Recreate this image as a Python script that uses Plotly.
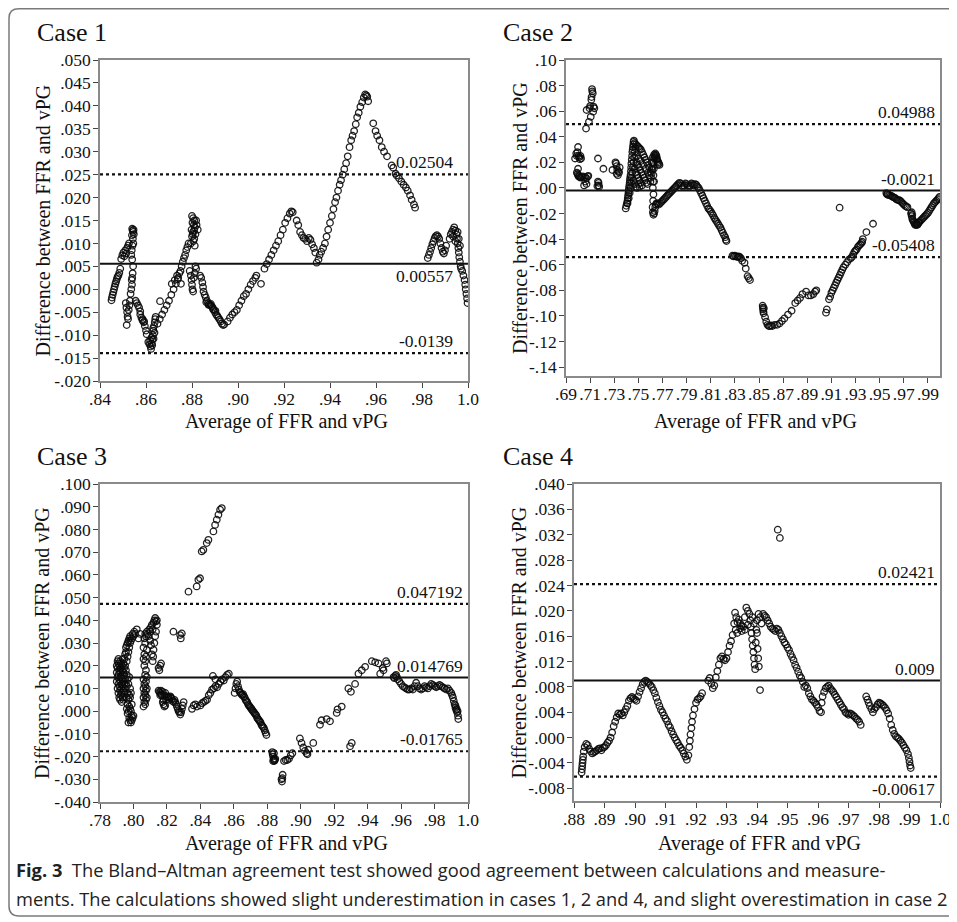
import plotly.graph_objects as go

W, H = 957, 922

# ---------------- data ----------------
case1_points = [
    (.8450,-.0024),(.8452,-.0018),(.8455,-.0012),(.8458,-.0006),(.8461,.0000),(.8464,.0006),(.8467,.0012),
    (.8470,.0017),(.8473,.0022),(.8476,.0027),(.8480,.0030),(.8484,.0036),(.8488,.0045),(.8492,.0066),
    (.8497,.0074),(.8502,.0080),(.8506,.0072),(.8510,.0085),(.8514,.0078),(.8518,.0090),(.8522,.0095),(.8526,.0100),
    (.8540,.0132),(.8542,.0128),(.8545,.0125),(.8547,.0120),(.8543,.0110),(.8545,.0100),(.8541,.0095),(.8538,.0085),
    (.8536,.0075),(.8540,.0065),(.8544,.0050),(.8542,.0035),(.8540,.0025),(.8538,.0020),(.8546,.0130),(.8539,.0118),
    (.8512,-.0030),(.8515,-.0040),(.8518,-.0050),(.8520,-.0060),(.8516,-.0078),(.8522,-.0065),(.8525,-.0045),
    (.8528,-.0035),(.8530,-.0025),(.8533,-.0010),(.8536,.0000),(.8539,.0010),
    (.8555,-.0025),(.8560,-.0030),(.8565,-.0035),(.8570,-.0040),(.8575,-.0055),(.8580,-.0062),(.8585,-.0068),
    (.8590,-.0072),(.8595,-.0080),(.8600,-.0090),(.8603,-.0098),(.8575,-.0048),(.8585,-.0065),(.8592,-.0070),
    (.8610,-.0115),(.8615,-.0120),(.8620,-.0125),(.8622,-.0130),(.8625,-.0118),(.8628,-.0110),(.8630,-.0100),
    (.8632,-.0090),(.8635,-.0080),(.8638,-.0072),(.8640,-.0065),(.8627,-.0122),(.8633,-.0108),(.8637,-.0095),
    (.8618,-.0112),(.8624,-.0105),(.8631,-.0085),(.8642,-.0060),
    (.8661,-.0026),
    (.8650,-.0075),(.8660,-.0065),(.8670,-.0055),(.8680,-.0045),(.8690,-.0035),(.8700,-.0025),(.8710,-.0012),
    (.8720,.0000),(.8730,.0012),(.8740,.0025),(.8750,.0040),(.8755,.0050),(.8760,.0060),(.8765,.0068),
    (.8770,.0075),(.8775,.0085),(.8780,.0092),(.8785,.0100),
    (.8712,.0012),(.8725,.0020),(.8735,.0030),(.8745,.0035),(.8752,.0012),(.8738,.0022),
    (.8800,.0160),(.8805,.0155),(.8810,.0150),(.8802,.0145),(.8808,.0140),(.8812,.0135),(.8798,.0130),(.8804,.0125),
    (.8815,.0120),(.8800,.0115),(.8810,.0110),(.8806,.0105),(.8795,.0100),(.8812,.0095),(.8820,.0140),(.8825,.0130),
    (.8818,.0150),(.8803,.0120),(.8809,.0128),
    (.8790,.0040),(.8795,.0030),(.8798,.0020),(.8800,.0010),(.8802,.0000),(.8805,-.0005),(.8808,.0025),
    (.8812,.0035),(.8815,.0050),(.8818,.0045),
    (.8835,.0030),(.8840,.0025),(.8845,.0015),(.8848,.0005),(.8850,-.0005),(.8855,-.0012),(.8860,-.0018),
    (.8865,-.0025),(.8870,-.0030),(.8875,-.0033),(.8880,-.0035),(.8885,-.0037),(.8890,-.0040),(.8895,-.0045),
    (.8900,-.0050),(.8905,-.0055),(.8910,-.0058),(.8915,-.0062),(.8920,-.0066),(.8925,-.0070),(.8930,-.0075),
    (.8935,-.0078),(.8940,-.0077),(.8862,-.0028),(.8872,-.0034),(.8882,-.0032),(.8892,-.0044),(.8902,-.0047),
    (.8955,-.0070),(.8965,-.0062),(.8975,-.0055),(.8985,-.0050),(.8995,-.0045),(.9005,-.0035),(.9015,-.0025),
    (.9025,-.0015),(.9035,-.0010),(.9045,.0000),(.9055,.0010),(.9065,.0018),(.9075,.0025),(.9080,.0030),
    (.9100,.0012),
    (.9115,.0045),(.9125,.0055),(.9135,.0065),(.9145,.0075),(.9155,.0085),(.9165,.0095),(.9175,.0105),
    (.9185,.0118),(.9195,.0130),(.9205,.0145),(.9215,.0155),(.9225,.0165),(.9232,.0170),(.9238,.0168),
    (.9255,.0150),(.9262,.0140),(.9270,.0125),(.9278,.0118),(.9285,.0112),(.9292,.0110),(.9300,.0105),
    (.9308,.0112),(.9315,.0108),(.9322,.0098),(.9330,.0090),(.9336,.0080),(.9342,.0058),
    (.9350,.0065),(.9355,.0075),(.9362,.0082),(.9370,.0090),(.9378,.0100),(.9385,.0115),(.9392,.0130),
    (.9400,.0145),(.9408,.0160),(.9415,.0175),(.9422,.0190),(.9428,.0200),(.9435,.0215),(.9442,.0228),
    (.9448,.0238),(.9455,.0250),(.9462,.0262),(.9470,.0275),(.9477,.0290),(.9485,.0310),(.9492,.0325),
    (.9498,.0335),(.9505,.0345),(.9512,.0360),(.9518,.0375),(.9525,.0385),(.9532,.0398),(.9540,.0408),
    (.9547,.0418),(.9553,.0425),(.9558,.0423),(.9562,.0420),(.9566,.0410),
    (.9588,.0362),(.9598,.0345),(.9605,.0335),(.9615,.0325),(.9625,.0310),(.9635,.0300),(.9648,.0290),
    (.9668,.0270),(.9675,.0265),(.9685,.0252),(.9690,.0248),(.9700,.0242),(.9710,.0235),(.9720,.0228),
    (.9730,.0222),(.9738,.0215),(.9748,.0205),(.9755,.0195),(.9765,.0185),(.9770,.0178),
    (.9825,.0068),(.9830,.0075),(.9835,.0082),(.9840,.0090),(.9845,.0098),(.9850,.0105),(.9855,.0112),
    (.9860,.0116),(.9865,.0118),(.9870,.0115),(.9875,.0110),(.9880,.0100),(.9885,.0090),(.9890,.0082),
    (.9895,.0078),(.9900,.0085),(.9905,.0095),
    (.9920,.0110),(.9925,.0120),(.9930,.0125),(.9935,.0130),(.9940,.0135),(.9945,.0128),(.9950,.0120),
    (.9952,.0110),(.9955,.0100),(.9958,.0090),(.9960,.0080),(.9962,.0070),(.9965,.0060),(.9968,.0050),
    (.9970,.0045),(.9975,.0040),(.9980,.0030),(.9985,.0020),(.9988,.0010),(.9990,.0000),(.9993,-.0010),
    (.9996,-.0020),(.9998,-.0030),(.9935,.0115),(.9945,.0105),(.9955,.0125),(.9960,.0110),(.9965,.0095),
]

case2_points = [
    (.6975,.0230),(.6985,.0270),(.6990,.0250),(.6995,.0280),(.7000,.0320),(.7005,.0250),(.7010,.0240),
    (.7015,.0225),(.7020,.0250),(.7025,.0230),
    (.6990,.0120),(.6995,.0110),(.7000,.0100),(.7005,.0090),(.7010,.0095),(.7015,.0085),(.7020,.0080),
    (.7030,.0085),(.7040,.0090),(.7050,.0080),(.7060,.0085),(.7070,.0075),(.7080,.0090),(.7085,.0095),(.7000,.0150),
    (.7050,.0020),(.7060,.0050),(.7070,.0030),
    (.7066,.0464),(.7071,.0609),(.7095,.0623),(.7110,.0689),(.7118,.0755),(.7116,.0773),(.7122,.0740),
    (.7128,.0636),(.7135,.0623),(.7105,.0556),(.7090,.0517),(.7125,.0596),(.7100,.0640),(.7112,.0710),
    (.7165,.0230),(.7165,.0050),(.7170,.0020),(.7175,.0010),(.7160,.0015),(.7170,.0040),
    (.7210,.0150),(.7285,.0140),(.7310,.0200),(.7315,.0190),(.7320,.0170),(.7325,.0140),(.7320,.0110),
    (.7330,.0100),(.7340,.0120),(.7345,.0160),(.7335,.0130),
    (.7395,-.0160),(.7400,-.0140),(.7405,-.0120),(.7410,-.0100),(.7412,-.0080),(.7415,-.0060),(.7418,-.0040),
    (.7420,-.0020),(.7422,.0000),(.7425,.0020),(.7428,.0040),(.7430,.0060),(.7432,.0080),(.7435,.0100),
    (.7438,.0130),(.7440,.0160),(.7442,.0190),(.7445,.0220),(.7448,.0250),(.7450,.0280),(.7453,.0300),
    (.7455,.0320),(.7458,.0340),(.7460,.0360),(.7463,.0370),
    (.7410,-.0120),(.7420,-.0080),(.7428,-.0040),(.7435,.0000),(.7440,.0040),(.7445,.0080),(.7450,.0120),
    (.7455,.0160),(.7460,.0200),(.7465,.0240),(.7470,.0280),(.7475,.0310),
    (.7470,.0350),(.7480,.0340),(.7490,.0330),(.7500,.0320),(.7510,.0310),(.7520,.0300),(.7530,.0280),
    (.7540,.0260),(.7550,.0240),(.7560,.0220),(.7570,.0200),(.7580,.0180),(.7590,.0160),
    (.7470,.0150),(.7480,.0120),(.7490,.0100),(.7500,.0080),(.7510,.0060),(.7520,.0040),(.7530,.0020),
    (.7485,.0200),(.7495,.0180),(.7505,.0160),(.7515,.0140),(.7525,.0120),(.7535,.0100),(.7545,.0080),
    (.7555,.0060),(.7565,.0040),(.7575,.0030),(.7480,.0250),(.7500,.0230),(.7520,.0210),(.7540,.0180),
    (.7560,.0150),(.7580,.0120),(.7590,.0100),(.7460,.0060),(.7470,.0030),(.7480,.0010),(.7490,.0000),
    (.7500,.0030),(.7510,.0010),
    (.7600,.0050),(.7605,.0080),(.7610,.0110),(.7615,.0140),(.7620,.0170),(.7625,.0200),(.7630,.0230),
    (.7635,.0250),(.7640,.0270),(.7645,.0260),(.7650,.0250),(.7655,.0230),(.7660,.0210),(.7665,.0200),
    (.7670,.0190),(.7675,.0180),(.7610,.0200),(.7620,.0240),(.7630,.0260),(.7640,.0240),(.7650,.0220),
    (.7660,.0180),(.7600,.0120),(.7610,.0150),
    (.7620,.0000),(.7622,.0050),(.7625,.0100),(.7628,.0150),(.7630,.0050),(.7625,-.0050),(.7622,-.0100),(.7618,-.0150),
    (.7620,-.0190),(.7625,-.0210),(.7630,-.0200),(.7635,-.0180),(.7640,-.0150),(.7645,-.0130),(.7650,-.0120),
    (.7660,-.0120),(.7670,-.0130),(.7680,-.0120),(.7690,-.0110),(.7700,-.0100),(.7710,-.0090),(.7720,-.0080),
    (.7730,-.0070),(.7740,-.0060),(.7750,-.0050),(.7760,-.0040),(.7770,-.0030),(.7780,-.0020),(.7790,-.0010),
    (.7800,.0000),(.7810,.0010),(.7820,.0020),(.7830,.0030),(.7840,.0040),(.7850,.0035),(.7860,.0020),
    (.7870,.0010),(.7880,.0020),(.7890,.0035),(.7900,.0030),(.7910,.0020),(.7920,.0010),(.7930,.0020),
    (.7940,.0035),(.7950,.0030),(.7960,.0020),(.7970,.0030),(.7980,.0025),(.7990,.0010),(.8000,.0000),
    (.8010,-.0020),(.8020,-.0040),(.8030,-.0060),(.8040,-.0080),(.8050,-.0100),(.8060,-.0120),(.8070,-.0140),
    (.8080,-.0160),(.8090,-.0170),(.8100,-.0185),(.8110,-.0200),(.8120,-.0215),(.8130,-.0235),(.8140,-.0250),
    (.8150,-.0265),(.8160,-.0280),(.8170,-.0295),(.8180,-.0310),(.8190,-.0330),(.8200,-.0350),(.8210,-.0370),
    (.8220,-.0385),(.8225,-.0405),(.8230,-.0415),
    (.8280,-.0530),(.8290,-.0535),(.8300,-.0530),(.8310,-.0535),(.8320,-.0540),(.8330,-.0535),(.8340,-.0540),
    (.8350,-.0550),(.8360,-.0570),
    (.8380,-.0585),(.8390,-.0630),(.8405,-.0690),(.8415,-.0705),(.8425,-.0720),
    (.8530,-.0920),(.8532,-.0935),(.8534,-.0950),(.8536,-.0965),(.8538,-.0980),(.8540,-.0940),
    (.8550,-.1010),(.8560,-.1045),(.8570,-.1070),(.8580,-.1080),(.8590,-.1080),(.8600,-.1075),(.8610,-.1080),
    (.8630,-.1070),(.8650,-.1070),(.8670,-.1060),(.8690,-.1040),(.8710,-.1020),(.8740,-.0990),(.8770,-.0960),
    (.8800,-.0900),(.8820,-.0880),(.8840,-.0860),(.8860,-.0830),(.8890,-.0810),(.8910,-.0840),(.8930,-.0840),
    (.8950,-.0830),(.8965,-.0810),(.8975,-.0800),
    (.9055,-.0975),(.9062,-.0950),(.9080,-.0870),(.9090,-.0850),(.9100,-.0820),(.9110,-.0800),(.9120,-.0780),
    (.9130,-.0760),(.9140,-.0740),(.9150,-.0720),(.9160,-.0700),(.9170,-.0680),(.9180,-.0660),(.9190,-.0640),
    (.9200,-.0620),(.9215,-.0600),(.9230,-.0580),(.9245,-.0560),(.9260,-.0550),(.9270,-.0540),(.9280,-.0520),
    (.9290,-.0500),(.9300,-.0490),(.9310,-.0480),(.9320,-.0460),(.9330,-.0450),(.9340,-.0440),(.9350,-.0430),
    (.9355,-.0420),(.9360,-.0400),(.9390,-.0345),(.9445,-.0280),
    (.9168,-.0154),
    (.9555,-.0040),(.9560,-.0050),(.9565,-.0045),(.9570,-.0055),(.9580,-.0055),(.9590,-.0060),(.9600,-.0065),
    (.9610,-.0070),(.9620,-.0075),(.9630,-.0080),(.9640,-.0090),(.9650,-.0095),(.9660,-.0095),(.9670,-.0100),
    (.9680,-.0110),(.9690,-.0120),(.9700,-.0130),(.9710,-.0140),(.9720,-.0145),(.9730,-.0150),
    (.9760,-.0200),(.9765,-.0220),(.9770,-.0240),(.9775,-.0250),(.9780,-.0260),(.9785,-.0270),(.9790,-.0280),
    (.9795,-.0290),(.9800,-.0285),(.9805,-.0280),(.9810,-.0290),(.9815,-.0285),(.9820,-.0275),(.9825,-.0270),
    (.9830,-.0265),(.9840,-.0255),(.9850,-.0245),(.9860,-.0235),(.9870,-.0225),(.9880,-.0215),(.9890,-.0205),
    (.9900,-.0195),(.9910,-.0180),(.9920,-.0165),(.9930,-.0150),(.9940,-.0135),(.9950,-.0120),(.9960,-.0110),
    (.9970,-.0100),(.9980,-.0090),(.9990,-.0080),(.9995,-.0070),(.9765,-.0190),(.9770,-.0210),
]

case3_points = [
    (.7900,.0130),(.7900,.0170),(.7900,.0200),(.7905,.0100),(.7905,.0150),(.7905,.0190),(.7905,.0220),
    (.7910,.0080),(.7910,.0120),(.7910,.0160),(.7910,.0210),(.7910,.0230),(.7915,.0060),(.7915,.0110),
    (.7915,.0140),(.7915,.0180),(.7915,.0200),(.7920,.0050),(.7920,.0090),(.7920,.0130),(.7920,.0170),
    (.7920,.0220),(.7925,.0070),(.7925,.0100),(.7925,.0150),(.7925,.0190),(.7925,.0210),(.7930,.0040),
    (.7930,.0080),(.7930,.0120),(.7930,.0160),(.7930,.0200),(.7935,.0060),(.7935,.0110),(.7935,.0140),
    (.7935,.0180),(.7935,.0230),(.7940,.0050),(.7940,.0090),(.7940,.0130),(.7940,.0170),(.7940,.0210),
    (.7945,.0080),(.7945,.0120),(.7945,.0160),(.7945,.0190),(.7945,.0230),(.7950,.0100),(.7950,.0140),
    (.7950,.0200),(.7950,.0250),(.7955,.0120),(.7955,.0180),(.7955,.0260),(.7955,.0280),(.7960,.0010),
    (.7960,.0060),(.7960,.0110),(.7960,.0160),(.7960,.0220),(.7960,.0290),(.7965,-.0010),(.7965,.0030),
    (.7965,.0080),(.7965,.0140),(.7965,.0240),(.7965,.0300),(.7970,-.0050),(.7970,.0000),(.7970,.0050),
    (.7970,.0120),(.7970,.0260),(.7970,.0310),(.7975,-.0030),(.7975,.0020),(.7975,.0070),(.7975,.0150),
    (.7975,.0280),(.7975,.0320),(.7980,-.0040),(.7980,.0010),(.7980,.0060),(.7980,.0100),(.7980,.0300),
    (.7980,.0330),(.7985,-.0050),(.7985,.0000),(.7985,.0080),(.7985,.0310),(.7990,-.0040),(.7990,-.0020),
    (.7990,.0030),(.7990,.0320),(.7995,-.0030),(.7995,.0340),(.8000,-.0020),(.8000,.0330),(.8005,.0350),
    (.8010,.0340),(.8020,.0360),(.8030,.0320),(.8040,.0340),
    (.8060,.0020),(.8060,.0060),(.8060,.0100),(.8060,.0140),(.8060,.0230),(.8060,.0280),(.8065,.0040),
    (.8065,.0080),(.8065,.0120),(.8065,.0200),(.8065,.0250),(.8065,.0320),(.8070,.0030),(.8070,.0070),
    (.8070,.0110),(.8070,.0160),(.8070,.0220),(.8070,.0300),(.8070,.0340),(.8075,.0050),(.8075,.0090),
    (.8075,.0130),(.8075,.0180),(.8075,.0240),(.8075,.0330),(.8080,.0060),(.8080,.0100),(.8080,.0150),
    (.8080,.0270),(.8080,.0350),
    (.8085,.0340),(.8090,.0330),(.8095,.0360),(.8100,.0350),(.8105,.0370),(.8110,.0380),(.8115,.0360),
    (.8120,.0390),(.8125,.0400),(.8130,.0410),(.8135,.0395),(.8140,.0380),(.8140,.0400),(.8135,.0350),
    (.8130,.0330),(.8125,.0300),(.8120,.0270),(.8118,.0240),(.8115,.0220),(.8110,.0250),(.8105,.0290),
    (.8100,.0310),(.8150,.0190),(.8155,.0180),(.8160,.0200),(.8165,.0210),
    (.8150,.0090),(.8155,.0085),(.8160,.0080),(.8165,.0075),(.8170,.0070),(.8160,.0070),(.8165,.0090),
    (.8175,.0040),(.8180,.0030),(.8185,.0020),(.8190,.0025),(.8195,.0050),(.8200,.0060),(.8205,.0065),
    (.8210,.0060),(.8215,.0050),(.8220,.0065),(.8225,.0060),(.8230,.0055),(.8235,.0045),(.8240,.0040),
    (.8245,.0050),(.8250,.0040),(.8255,.0030),(.8260,.0020),(.8265,.0010),(.8270,.0000),(.8275,-.0005),
    (.8280,-.0015),(.8285,-.0005),(.8290,.0010),(.8295,.0025),(.8300,.0040),(.8180,.0050),(.8185,.0070),
    (.8190,.0080),(.8175,.0085),
    (.8350,.0010),(.8360,.0025),(.8370,.0030),(.8380,.0020),(.8400,.0025),(.8410,.0035),(.8420,.0040),
    (.8430,.0045),(.8440,.0050),(.8450,.0070),(.8460,.0080),(.8470,.0095),(.8480,.0100),(.8490,.0110),
    (.8500,.0105),(.8510,.0120),(.8520,.0130),(.8530,.0140),(.8540,.0135),(.8550,.0150),(.8560,.0160),
    (.8570,.0165),(.8475,.0155),(.8490,.0140),
    (.8605,.0080),(.8610,.0100),(.8615,.0120),(.8620,.0130),(.8625,.0110),(.8630,.0095),(.8635,.0085),
    (.8640,.0080),(.8645,.0075),(.8650,.0070),(.8655,.0075),(.8660,.0065),(.8665,.0060),(.8670,.0050),
    (.8675,.0045),(.8680,.0040),(.8685,.0030),(.8690,.0025),(.8695,.0020),(.8700,.0015),(.8705,.0010),
    (.8710,.0005),(.8715,.0000),(.8720,-.0005),(.8725,-.0010),(.8730,-.0015),(.8735,-.0020),(.8740,-.0030),
    (.8745,-.0035),(.8750,-.0040),(.8755,-.0045),(.8760,-.0050),(.8765,-.0060),(.8770,-.0065),(.8775,-.0070),
    (.8780,-.0075),(.8785,-.0085),(.8790,-.0095),(.8795,-.0105),
    (.8830,-.0180),(.8832,-.0190),(.8835,-.0200),(.8838,-.0210),(.8840,-.0215),(.8842,-.0220),(.8845,-.0215),
    (.8848,-.0210),(.8835,-.0220),(.8840,-.0185),
    (.8885,-.0300),(.8888,-.0310),(.8890,-.0295),(.8892,-.0280),
    (.8900,-.0220),(.8910,-.0215),(.8920,-.0215),(.8930,-.0210),(.8940,-.0195),(.8950,-.0185),
    (.8995,-.0120),(.9005,-.0140),(.9015,-.0160),(.9025,-.0175),(.9035,-.0185),(.9040,-.0190),(.9045,-.0170),
    (.9075,-.0140),
    (.9115,-.0060),(.9125,-.0040),(.9155,-.0035),(.9175,-.0045),
    (.9215,-.0008),(.9220,.0008),(.9245,.0020),
    (.9295,-.0155),(.9305,-.0140),
    (.9285,.0100),(.9300,.0085),(.9325,.0120),
    (.9345,.0165),(.9365,.0180),(.9385,.0195),(.9425,.0220),(.9445,.0215),(.9465,.0210),(.9475,.0165),
    (.9490,.0190),(.9495,.0180),(.9510,.0220),(.9515,.0210),
    (.9555,.0150),(.9560,.0145),(.9565,.0155),(.9570,.0160),(.9575,.0150),(.9580,.0140),(.9590,.0130),
    (.9600,.0120),(.9610,.0110),(.9620,.0105),(.9630,.0100),(.9640,.0095),(.9650,.0095),(.9660,.0100),
    (.9670,.0095),(.9680,.0110),(.9690,.0125),(.9700,.0110),(.9710,.0100),(.9720,.0095),(.9730,.0100),
    (.9740,.0110),(.9750,.0105),(.9760,.0100),(.9770,.0110),(.9780,.0120),(.9790,.0115),(.9800,.0110),
    (.9810,.0105),(.9820,.0110),(.9830,.0115),(.9840,.0110),(.9850,.0105),(.9860,.0100),(.9870,.0095),
    (.9880,.0100),(.9890,.0090),(.9900,.0080),(.9905,.0070),(.9910,.0060),(.9915,.0045),(.9920,.0030),
    (.9925,.0015),(.9930,.0005),(.9935,-.0005),(.9940,-.0020),(.9942,-.0035),(.9938,.0000),(.9932,.0010),
    (.9925,.0025),
    (.8329,.0526),(.8378,.0549),(.8388,.0578),(.8398,.0585),(.8408,.0703),(.8418,.0710),(.8438,.0740),
    (.8448,.0754),(.8478,.0791),(.8488,.0820),(.8498,.0843),(.8508,.0865),(.8518,.0887),(.8528,.0894),
    (.8239,.0350),(.8279,.0335),(.8289,.0342),(.8283,.0320),
]

case4_points = [
    (.8825,-.0055),(.8826,-.0050),(.8827,-.0045),(.8828,-.0040),(.8829,-.0035),(.8830,-.0030),(.8832,-.0022),
    (.8835,-.0015),(.8840,-.0010),(.8845,-.0012),(.8850,-.0018),(.8855,-.0022),(.8860,-.0025),(.8865,-.0023),
    (.8870,-.0022),(.8875,-.0020),(.8880,-.0018),(.8885,-.0017),(.8890,-.0020),(.8895,-.0016),(.8900,-.0015),
    (.8905,-.0012),(.8910,-.0008),(.8915,-.0005),(.8920,.0000),(.8925,.0008),(.8930,.0018),(.8935,.0025),
    (.8940,.0032),(.8945,.0038),(.8950,.0036),(.8955,.0038),(.8960,.0035),(.8965,.0040),(.8970,.0045),
    (.8975,.0050),(.8980,.0058),(.8985,.0062),(.8990,.0064),(.8995,.0062),(.9000,.0060),(.9005,.0058),
    (.9010,.0065),(.9015,.0072),(.9020,.0078),(.9025,.0084),(.9030,.0088),(.9035,.0090),(.9040,.0088),
    (.9045,.0086),(.9050,.0083),(.9055,.0080),(.9060,.0075),(.9065,.0070),(.9070,.0063),(.9075,.0056),
    (.9080,.0050),(.9085,.0044),(.9090,.0040),(.9095,.0035),(.9100,.0030),(.9105,.0026),(.9110,.0020),
    (.9115,.0016),(.9120,.0010),(.9125,.0005),(.9130,.0000),(.9135,-.0004),(.9140,-.0008),(.9145,-.0013),
    (.9150,-.0016),(.9155,-.0020),(.9160,-.0025),(.9165,-.0030),(.9170,-.0035),(.9175,-.0028),(.9178,-.0015),
    (.9180,-.0005),(.9182,.0005),(.9185,.0015),(.9187,.0025),(.9190,.0035),(.9195,.0045),(.9200,.0055),
    (.9205,.0060),(.9210,.0062),(.9215,.0065),(.9220,.0070),
    (.9240,.0090),(.9245,.0094),(.9250,.0085),(.9255,.0078),(.9260,.0082),(.9265,.0095),(.9270,.0105),
    (.9275,.0115),(.9280,.0125),(.9285,.0128),(.9290,.0124),(.9295,.0122),(.9300,.0125),(.9305,.0135),
    (.9310,.0145),(.9315,.0152),(.9320,.0162),(.9325,.0180),(.9328,.0197),(.9332,.0190),(.9336,.0182),
    (.9340,.0186),(.9345,.0180),(.9350,.0176),(.9355,.0175),(.9360,.0190),(.9365,.0205),(.9370,.0200),
    (.9375,.0195),(.9378,.0185),(.9380,.0175),(.9382,.0165),(.9384,.0155),(.9386,.0145),(.9388,.0135),
    (.9390,.0125),(.9392,.0115),(.9394,.0108),(.9396,.0150),(.9398,.0170),(.9400,.0185),(.9405,.0195),
    (.9410,.0075),(.9410,.0190),(.9415,.0180),(.9420,.0195),(.9425,.0192),(.9430,.0190),(.9435,.0185),
    (.9440,.0180),(.9445,.0175),(.9450,.0172),(.9455,.0170),(.9460,.0168),(.9465,.0172),(.9470,.0170),
    (.9475,.0165),(.9480,.0160),(.9485,.0155),(.9490,.0150),(.9495,.0147),(.9500,.0142),(.9505,.0138),
    (.9510,.0132),(.9515,.0127),(.9520,.0122),(.9525,.0115),(.9530,.0110),(.9535,.0104),(.9540,.0098),
    (.9545,.0094),(.9550,.0088),(.9555,.0080),(.9560,.0082),(.9565,.0078),(.9570,.0070),(.9575,.0065),
    (.9580,.0060),(.9585,.0058),(.9590,.0055),(.9595,.0052),(.9600,.0048),(.9605,.0042),(.9610,.0040),
    (.9612,.0055),(.9615,.0065),(.9620,.0072),(.9625,.0078),(.9630,.0080),(.9635,.0082),(.9640,.0078),
    (.9645,.0075),(.9650,.0072),(.9655,.0068),(.9660,.0064),(.9665,.0060),(.9670,.0056),(.9675,.0052),
    (.9680,.0048),(.9685,.0045),(.9690,.0040),(.9695,.0038),(.9700,.0036),(.9705,.0038),(.9710,.0037),
    (.9715,.0035),(.9720,.0033),(.9725,.0030),(.9730,.0028),(.9735,.0025),(.9740,.0020),
    (.9758,.0065),(.9762,.0060),(.9766,.0055),(.9770,.0050),(.9775,.0045),(.9780,.0040),(.9785,.0045),
    (.9790,.0048),(.9795,.0052),(.9800,.0055),(.9805,.0054),(.9810,.0052),(.9815,.0050),(.9820,.0047),
    (.9825,.0043),(.9830,.0038),(.9835,.0030),(.9840,.0020),(.9845,.0012),(.9850,.0006),(.9855,.0002),
    (.9860,.0000),(.9865,-.0002),(.9870,-.0005),(.9875,-.0008),(.9880,-.0012),(.9885,-.0016),(.9890,-.0020),
    (.9895,-.0026),(.9898,-.0032),(.9900,-.0038),(.9902,-.0044),(.9904,-.0048),
    (.9330,.0170),(.9335,.0165),(.9345,.0172),(.9350,.0168),(.9360,.0170),(.9370,.0178),(.9385,.0190),
    (.9390,.0180),(.9400,.0165),(.9402,.0140),(.9404,.0125),(.9406,.0112),
    (.9468,.0328),(.9475,.0315),
]

case_titles = ["Case 1", "Case 2", "Case 3", "Case 4"]
upper_limits = [0.02504, 0.04988, 0.047192, 0.02421]
mean_diffs = [0.00557, -0.0021, 0.014769, 0.009]
lower_limits = [-0.0139, -0.05408, -0.01765, -0.00617]
upper_labels = ["0.02504", "0.04988", "0.047192", "0.02421"]
mean_labels = ["0.00557", "-0.0021", "0.014769", "0.009"]
lower_labels = ["-0.0139", "-0.05408", "-0.01765", "-0.00617"]

x_ranges = [(0.84, 1.0), (0.69, 1.0), (0.78, 1.0), (0.88, 1.0)]
y_ranges = [(-0.020, 0.050), (-0.147, 0.10), (-0.040, 0.100), (-0.010, 0.040)]

c1_xticks = [.84, .86, .88, .90, .92, .94, .96, .98, 1.0]
c1_xlabels = [".84", ".86", ".88", ".90", ".92", ".94", ".96", ".98", "1.0"]
c1_yticks = [.050, .045, .040, .035, .030, .025, .020, .015, .010, .005, .000, -.005, -.010, -.015, -.020]
c1_ylabels = [".050", ".045", ".040", ".035", ".030", ".025", ".020", ".015", ".010", ".005", ".000",
              "-.005", "-.010", "-.015", "-.020"]
c2_xticks = [.69, .71, .73, .75, .77, .79, .81, .83, .85, .87, .89, .91, .93, .95, .97, .99]
c2_xlabels = [".69", ".71", ".73", ".75", ".77", ".79", ".81", ".83", ".85", ".87", ".89", ".91",
              ".93", ".95", ".97", ".99"]
c2_yticks = [.10, .08, .06, .04, .02, .00, -.02, -.04, -.06, -.08, -.10, -.12, -.14]
c2_ylabels = [".10", ".08", ".06", ".04", ".02", ".00", "-.02", "-.04", "-.06", "-.08", "-.10", "-.12", "-.14"]
c3_xticks = [.78, .80, .82, .84, .86, .88, .90, .92, .94, .96, .98, 1.0]
c3_xlabels = [".78", ".80", ".82", ".84", ".86", ".88", ".90", ".92", ".94", ".96", ".98", "1.0"]
c3_yticks = [.100, .090, .080, .070, .060, .050, .040, .030, .020, .010, .000, -.010, -.020, -.030, -.040]
c3_ylabels = [".100", ".090", ".080", ".070", ".060", ".050", ".040", ".030", ".020", ".010", ".000",
              "-.010", "-.020", "-.030", "-.040"]
c4_xticks = [.88, .89, .90, .91, .92, .93, .94, .95, .96, .97, .98, .99, 1.0]
c4_xlabels = [".88", ".89", ".90", ".91", ".92", ".93", ".94", ".95", ".96", ".97", ".98", ".99", "1.0"]
c4_yticks = [.040, .036, .032, .028, .024, .020, .016, .012, .008, .004, .000, -.004, -.008]
c4_ylabels = [".040", ".036", ".032", ".028", ".024", ".020", ".016", ".012", ".008", ".004", ".000",
              "-.004", "-.008"]

x_title = "Average of FFR and vPG"
y_title = "Difference between FFR and vPG"
caption_bold = "Fig. 3"
caption_line1 = "The Bland\u2013Altman agreement test showed good agreement between calculations and measure-"
caption_line2 = ("ments. The calculations showed slight underestimation in cases 1, 2 and 4, "
                 "and slight overestimation in case 2")

# ---------------- layout geometry (page pixels) ----------------
OFF = 8  # the page body puts the figure 8px from the window corner


def px(x):
    return (x - OFF) / W


def py(y):
    return 1 - (y - OFF) / H


# plot boxes: left, right, top, bottom (page pixels)
boxes = [(100, 468, 60, 381), (566, 940, 60, 376), (100, 468, 484, 802), (574, 940, 484, 801)]
title_pos = [(35, 33), (501, 33), (35, 456), (501, 456)]
ytitle_x = [42, 520, 42, 518]
xtitle_y = [421, 421, 843, 843]
label_right = [455, 937, 465, 937]
upper_above = [True, True, True, True]
mean_above = [False, True, True, True]
lower_above = [True, True, True, False]

ticks_all = [(c1_xticks, c1_xlabels, c1_yticks, c1_ylabels),
             (c2_xticks, c2_xlabels, c2_yticks, c2_ylabels),
             (c3_xticks, c3_xlabels, c3_yticks, c3_ylabels),
             (c4_xticks, c4_xlabels, c4_yticks, c4_ylabels)]
points_all = [case1_points, case2_points, case3_points, case4_points]

SERIF = "Liberation Serif"
SANS = "Open Sans"
TXT = "#111111"

fig = go.Figure()
layout = dict(
    width=W, height=H, autosize=False,
    margin=dict(l=0, r=0, t=0, b=0, pad=0, autoexpand=False),
    paper_bgcolor="white", plot_bgcolor="white", showlegend=False,
)
annotations = []
shapes = []

for i in range(4):
    n = "" if i == 0 else str(i + 1)
    xa, ya = "x" + n, "y" + n
    L, R, T, B = boxes[i]
    xt, xl, yt, yl = ticks_all[i]
    pts = points_all[i]
    fig.add_trace(go.Scatter(
        x=[p[0] for p in pts], y=[p[1] for p in pts], mode="markers",
        xaxis=xa, yaxis=ya,
        marker=dict(symbol="circle-open", size=6.5, color="rgba(10,10,10,0.9)", line=dict(width=1.3)),
        hoverinfo="skip",
    ))
    axis_common = dict(
        showgrid=False, zeroline=False, showline=True, mirror=True,
        linecolor="#8a8a8a", linewidth=1.5, ticks="outside", ticklen=5,
        tickcolor="#444", tickwidth=1, automargin=False,
        tickfont=dict(family=SERIF, size=17.5, color=TXT),
    )
    layout["xaxis" + n] = dict(axis_common, domain=[px(L), px(R)], range=list(x_ranges[i]),
                               tickvals=xt, ticktext=xl, anchor=ya, ticklabelstandoff=-4)
    layout["yaxis" + n] = dict(axis_common, domain=[py(B), py(T)], range=list(y_ranges[i]),
                               tickvals=yt, ticktext=yl, anchor=xa, ticklabelstandoff=-1)

    # reference lines
    for val, dash in ((upper_limits[i], "dot"), (mean_diffs[i], "solid"), (lower_limits[i], "dot")):
        shapes.append(dict(type="line", xref=xa + " domain", x0=0, x1=1, yref=ya, y0=val, y1=val,
                           line=dict(color="#111", width=2.2 if dash == "dot" else 2, dash=dash)))
    # value labels
    xr = (label_right[i] - L) / (R - L)
    for val, lab, above in ((upper_limits[i], upper_labels[i], upper_above[i]),
                            (mean_diffs[i], mean_labels[i], mean_above[i]),
                            (lower_limits[i], lower_labels[i], lower_above[i])):
        annotations.append(dict(text=lab, xref=xa + " domain", x=xr, xanchor="right",
                                yref=ya, y=val, yanchor="bottom" if above else "top",
                                yshift=0, showarrow=False,
                                font=dict(family=SERIF, size=17.5, color=TXT)))
    # titles
    annotations.append(dict(text=case_titles[i], xref="paper", yref="paper",
                            x=px(title_pos[i][0]), y=py(title_pos[i][1]), xanchor="left", yanchor="middle",
                            showarrow=False, font=dict(family=SERIF, size=26, color=TXT)))
    annotations.append(dict(text=y_title, xref="paper", yref="paper", textangle=-90,
                            x=px(ytitle_x[i]), y=py((T + B) / 2), xanchor="center", yanchor="middle",
                            showarrow=False, font=dict(family=SERIF, size=20, color=TXT)))
    annotations.append(dict(text=x_title, xref="paper", yref="paper",
                            x=px((L + R) / 2 + 2), y=py(xtitle_y[i]), xanchor="center", yanchor="middle",
                            showarrow=False, font=dict(family=SERIF, size=20, color=TXT)))

# caption
annotations.append(dict(text="<b>" + caption_bold + "</b>  " + caption_line1, xref="paper", yref="paper",
                        x=px(14), y=py(869), xanchor="left", yanchor="middle", showarrow=False,
                        font=dict(family=SANS, size=18.3, color="#222")))
annotations.append(dict(text=caption_line2, xref="paper", yref="paper",
                        x=px(14), y=py(898), xanchor="left", yanchor="middle", showarrow=False,
                        font=dict(family=SANS, size=18.3, color="#222")))

# rounded frame around figure
path = (f"M {px(975)},{py(8.8)} L {px(19)},{py(8.8)} Q {px(9)},{py(8.8)} {px(9)},{py(18)} "
        f"L {px(9)},{py(906)} Q {px(9)},{py(916)} {px(19)},{py(916)} L {px(975)},{py(916)}")
shapes.append(dict(type="path", xref="paper", yref="paper", path=path,
                   line=dict(color="#7a7a7a", width=1.5)))

layout["annotations"] = annotations
layout["shapes"] = shapes
fig.update_layout(**layout)
fig.write_html("out.html")
